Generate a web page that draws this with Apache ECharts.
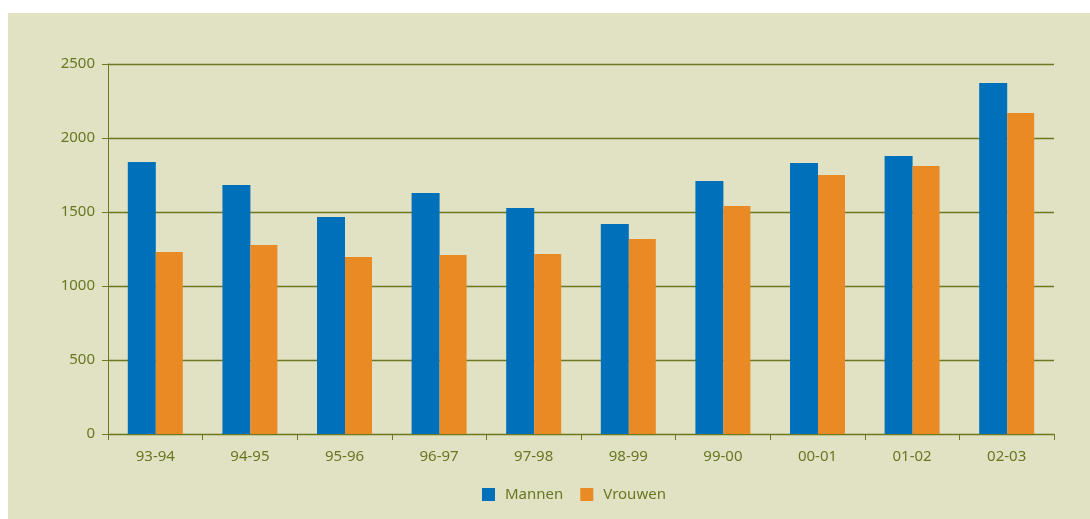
<!DOCTYPE html>
<html>
<head>
<meta charset="utf-8">
<script src="https://cdn.jsdelivr.net/npm/echarts@6/dist/echarts.min.js"></script>
<style>
  html, body { margin: 0; padding: 0; background: #ffffff; }
  #panel { position: absolute; left: 8px; top: 13px; width: 1082px; height: 506px; background: #e1e1c4; }
  #chart { position: absolute; left: 0; top: 0; width: 1090px; height: 519px; }
</style>
</head>
<body>
<div id="panel"></div>
<div id="chart"></div>
<script>
// School years on the category axis
const seasons = ['93-94', '94-95', '95-96', '96-97', '97-98', '98-99', '99-00', '00-01', '01-02', '02-03'];
// Counts per school year
const mannen  = [1838, 1682, 1466, 1628, 1527, 1419, 1709, 1831, 1878, 2372];
const vrouwen = [1230, 1277, 1196, 1209, 1216, 1318, 1541, 1750, 1811, 2169];
// Value axis range
const yMin = 0, yMax = 2500, yStep = 500;

const olive = '#6b7a1c';
const textColor = '#687820';
const font = '"Noto Sans", "Open Sans", sans-serif';

const chart = echarts.init(document.getElementById('chart'), null, { renderer: 'canvas' });
chart.setOption({
  backgroundColor: 'transparent',
  animation: false,
  textStyle: { fontFamily: font },
  grid: { left: 108, right: 36, top: 64, bottom: 85, containLabel: false },
  legend: {
    bottom: 12,
    left: 477,
    itemWidth: 13,
    itemHeight: 13,
    itemGap: 17,
    icon: 'rect',
    textStyle: { color: textColor, fontSize: 15, fontFamily: font, padding: [0, 0, 0, 5] },
    data: ['Mannen', 'Vrouwen']
  },
  xAxis: {
    type: 'category',
    data: seasons,
    axisLine: { show: true, lineStyle: { color: olive, width: 1 } },
    axisTick: { show: true, length: 6, lineStyle: { color: olive } },
    axisLabel: { color: textColor, fontSize: 15, margin: 15, fontFamily: font },
    splitLine: { show: false }
  },
  yAxis: {
    type: 'value',
    min: yMin,
    max: yMax,
    interval: yStep,
    axisLine: { show: true, lineStyle: { color: olive, width: 1 } },
    axisTick: { show: true, length: 6, lineStyle: { color: olive } },
    axisLabel: { color: textColor, fontSize: 15, margin: 13, fontFamily: font, formatter: v => String(v) },
    splitLine: { show: true, lineStyle: { color: olive, width: 1.3 } }
  },
  series: [
    {
      name: 'Mannen',
      type: 'bar',
      data: mannen,
      barWidth: 28,
      barGap: '0%',
      itemStyle: { color: '#0070ba' }
    },
    {
      name: 'Vrouwen',
      type: 'bar',
      data: vrouwen,
      barWidth: 27,
      barGap: '0%',
      itemStyle: { color: '#ea8a25' }
    }
  ]
});
</script>
</body>
</html>
